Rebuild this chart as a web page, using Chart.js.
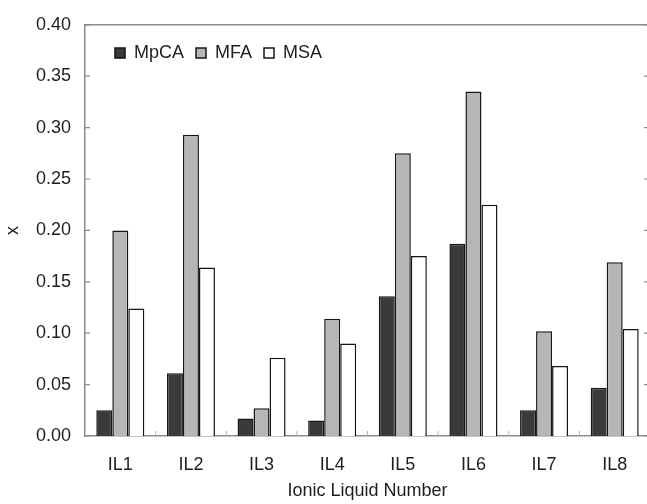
<!DOCTYPE html>
<html lang="en">
<head>
    <meta charset="UTF-8">
    <title>Ionic Liquid Number</title>
    <script src="https://cdn.jsdelivr.net/npm/chart.js"></script>
    <style>
        html, body {
            margin: 0;
            padding: 0;
            background: #fff;
            overflow: hidden;
        }
        #grafico {
            display: block;
        }
    </style>
</head>
<body>

<canvas id="grafico" width="660" height="504"></canvas>

<script>
    const categorias = ['IL1', 'IL2', 'IL3', 'IL4', 'IL5', 'IL6', 'IL7', 'IL8'];
    const valoresMpCA = [0.025, 0.061, 0.017, 0.015, 0.136, 0.187, 0.025, 0.047];
    const valoresMFA = [0.200, 0.293, 0.027, 0.114, 0.275, 0.335, 0.102, 0.169];
    const valoresMSA = [0.124, 0.164, 0.076, 0.090, 0.175, 0.225, 0.068, 0.104];
    const rotulosY = ['0.00', '0.05', '0.10', '0.15', '0.20', '0.25', '0.30', '0.35', '0.40'];

    const corEixo = '#8c8c8c';
    const corTexto = '#1e1e1e';

    Chart.defaults.font.family = "'Liberation Sans', Arial, sans-serif";
    Chart.defaults.font.size = 18;
    Chart.defaults.color = corTexto;

    // legend sits inside the plot, in one row, like the original
    const legendaDentro = {
        id: 'legendaDentro',
        beforeLayout(chart) {
            if (chart.legend) chart.legend.isHorizontal = () => true;
        },
        afterLayout(chart) {
            const leg = chart.legend;
            if (!leg) return;
            leg.left = 103;
            leg.right = leg.left + 500;
            leg.top = 32;
            leg.bottom = leg.top + 50;
            leg.width = leg.right - leg.left;
            leg.height = leg.bottom - leg.top;
        }
    };

    // frame on top/right and the small inward ticks
    const molduraTicks = {
        id: 'molduraTicks',
        afterDatasetsDraw(chart) {
            const { ctx, chartArea: a, scales } = chart;
            ctx.save();
            ctx.strokeStyle = corEixo;
            ctx.lineWidth = 1.5;
            ctx.beginPath();
            ctx.moveTo(a.left, a.top);
            ctx.lineTo(a.right, a.top);
            ctx.lineTo(a.right, a.bottom);
            ctx.stroke();

            ctx.lineWidth = 1.2;
            ctx.beginPath();
            scales.y.ticks.forEach(t => {
                const y = scales.y.getPixelForValue(t.value);
                ctx.moveTo(a.left, y);
                ctx.lineTo(a.left + 5, y);
                ctx.moveTo(a.right, y);
                ctx.lineTo(a.right - 6, y);
            });
            ctx.stroke();

            ctx.strokeStyle = '#b0b0b0';
            ctx.lineWidth = 1;
            ctx.beginPath();
            for (let i = 1; i < categorias.length; i++) {
                const x = (scales.x.getPixelForValue(i - 1) + scales.x.getPixelForValue(i)) / 2;
                ctx.moveTo(x, a.bottom);
                ctx.lineTo(x, a.bottom - 5);
            }
            ctx.stroke();
            ctx.restore();
        }
    };

    new Chart(document.getElementById('grafico'), {
        type: 'bar',
        data: {
            labels: categorias,
            datasets: [{
                label: 'MpCA',
                data: valoresMpCA,
                backgroundColor: '#3a3a3a',
                borderColor: '#161616',
                borderWidth: 1.5
            }, {
                label: 'MFA',
                data: valoresMFA,
                backgroundColor: '#b6b6b6',
                borderColor: '#161616',
                borderWidth: 1.5
            }, {
                label: 'MSA',
                data: valoresMSA,
                backgroundColor: '#ffffff',
                borderColor: '#161616',
                borderWidth: 1.5
            }]
        },
        options: {
            responsive: false,
            animation: false,
            devicePixelRatio: 1,
            layout: {
                padding: { top: 21, right: 10, bottom: 0, left: 0 }
            },
            datasets: {
                bar: {
                    categoryPercentage: 0.68,
                    barPercentage: 1.0
                }
            },
            plugins: {
                legend: {
                    position: 'chartArea',
                    align: 'start',
                    labels: {
                        boxWidth: 10,
                        boxHeight: 10,
                        padding: 12,
                        color: corTexto,
                        font: { size: 18 }
                    }
                },
                tooltip: { enabled: false }
            },
            scales: {
                x: {
                    grid: { display: false, drawTicks: false },
                    border: { display: true, color: corEixo, width: 1.5 },
                    ticks: { padding: 18, color: corTexto, font: { size: 18 } },
                    title: {
                        display: true,
                        text: 'Ionic Liquid Number',
                        color: corTexto,
                        font: { size: 18 },
                        padding: { top: 0, bottom: 2 }
                    },
                    afterFit(scale) { scale.height = 68; }
                },
                y: {
                    min: 0,
                    max: 0.4,
                    grid: { display: false, drawTicks: false },
                    border: { display: true, color: corEixo, width: 1.5 },
                    ticks: {
                        stepSize: 0.05,
                        padding: 14,
                        color: corTexto,
                        font: { size: 18 },
                        callback: (v, i) => rotulosY[i]
                    },
                    title: {
                        display: true,
                        text: 'x',
                        color: corTexto,
                        font: { size: 18 },
                        padding: { top: 2, bottom: 4 }
                    },
                    afterFit(scale) { scale.width = 85; }
                }
            }
        },
        plugins: [legendaDentro, molduraTicks]
    });
</script>

</body>
</html>
